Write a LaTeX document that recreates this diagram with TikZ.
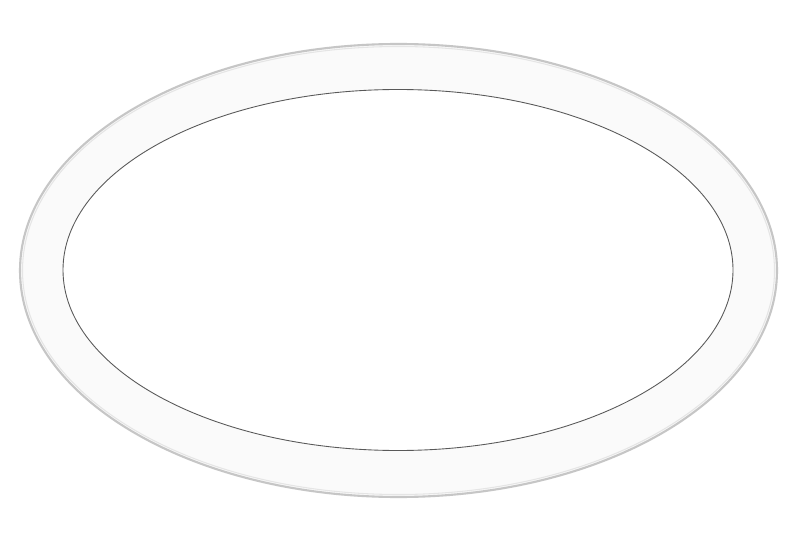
\documentclass[tikz,border=0pt]{standalone}
\begin{document}
\begin{tikzpicture}[x=0.02cm,y=-0.02cm]
        \useasboundingbox[fill=white] (0,0) rectangle (800,533);
        \coordinate (c) at (398.5,270.5);
        % ring
        \draw[gray!45,line width=1.2pt,fill=black!2] (c) ellipse (378.5 and 226.5);
        \draw[gray!20,line width=.6pt] (c) ellipse (376 and 224);
        \draw[black!65,line width=.5pt,fill=white] (398,270) ellipse (335 and 180.5);
    \end{tikzpicture}
\end{document}
